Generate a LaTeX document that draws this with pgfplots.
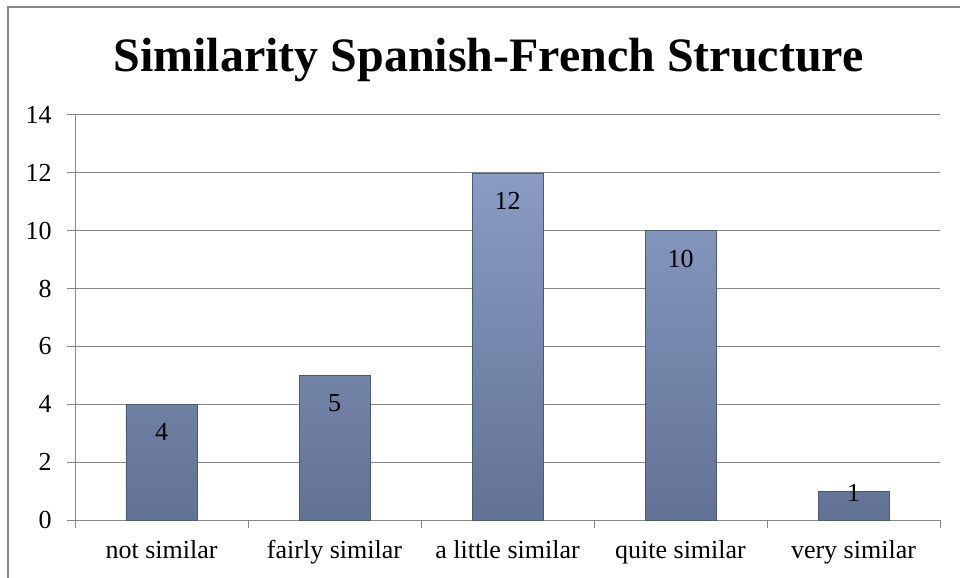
\documentclass[border=0pt]{standalone}
\usepackage{pgfplots}
\pgfplotsset{compat=1.18}
\usepackage{fontspec}
\setmainfont{Liberation Serif}
\definecolor{gridgray}{HTML}{868686}
\definecolor{bartop}{HTML}{8A9CC3}
\definecolor{barbot}{HTML}{617295}
\definecolor{baredge}{HTML}{4A5A7A}
\begin{document}
\begin{tikzpicture}
\useasboundingbox (0,0) rectangle (720pt,433.5pt);
\draw[gridgray, line width=1.5pt] (6pt,-2pt) -- (6pt,428.25pt) -- (722pt,428.25pt);
\node[anchor=base, inner sep=0pt, font=\fontsize{36}{40}\selectfont\bfseries] at (366.4pt,379.5pt) {Similarity Spanish-French Structure};
\begin{axis}[
 at={(56.25pt,43.5pt)}, anchor=south west,
 scale only axis, width=648.75pt, height=303.75pt,
 xmin=-0.5, xmax=4.5, ymin=0, ymax=14, ytick={0,2,...,14},
 xtick={-0.5,0.5,...,4.5}, xticklabels={},
 extra x ticks={0,1,2,3,4},
 extra x tick labels={not similar,fairly similar,a little similar,quite similar,very similar},
 extra x tick style={major tick length=0pt, grid=none,
   xticklabel style={anchor=base, yshift=-28.5pt}},
 axis x line*=bottom, axis y line*=left,
 axis line style={gridgray, line width=0.75pt, -},
 ymajorgrids, grid style={gridgray, line width=0.75pt},
 tick align=outside, major tick length=6pt,
 tick style={gridgray, line width=0.75pt},
 ticklabel style={font=\fontsize{19.5}{22}\selectfont},
 yticklabel style={xshift=-8pt},
 /pgf/number format/assume math mode=true,
 clip=false,
]
\addplot[ybar, bar width=53.25pt, draw=baredge, line width=0.5pt, top color=bartop, bottom color=barbot]
 coordinates {(0,4) (1,5) (2,12) (3,10) (4,1)};
\addplot[draw=none, mark=none, nodes near coords, point meta=explicit symbolic,
 nodes near coords style={anchor=center, inner sep=0pt, font=\fontsize{19.5}{22}\selectfont, text=black}]
 coordinates {(0,3.03)[4] (1,4.03)[5] (2,11.03)[12] (3,9.03)[10] (4,0.92)[1]};
\end{axis}
\end{tikzpicture}
\end{document}
